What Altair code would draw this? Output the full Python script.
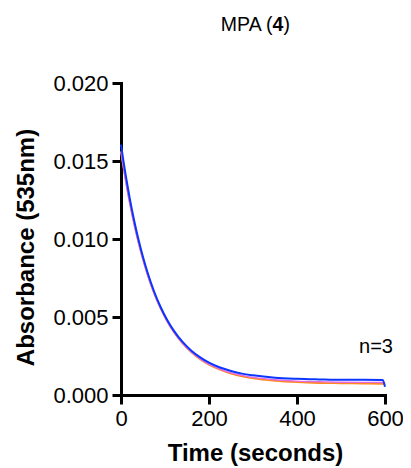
import altair as alt
import pandas as pd

time_s = [0, 5, 10, 15, 20, 30, 40, 50, 60, 75, 90, 105, 120, 140, 160, 180,
          200, 225, 250, 275, 300, 350, 400, 450, 500, 550, 595, 600]
blue = [0.01605, 0.0151, 0.01421, 0.01338, 0.01259, 0.01117, 0.00993, 0.00884,
        0.00788, 0.00665, 0.00564, 0.00481, 0.00413, 0.00340, 0.00284, 0.00241,
        0.00207, 0.00176, 0.00154, 0.00137, 0.00126, 0.00111, 0.00104, 0.00100,
        0.00097, 0.00098, 0.00096, 0.00053]
orange = [0.01562, 0.01472, 0.01387, 0.01307, 0.01232, 0.01096, 0.00976, 0.00870,
          0.00776, 0.00655, 0.00556, 0.00473, 0.00404, 0.00331, 0.00274, 0.00229,
          0.00194, 0.00162, 0.00137, 0.00120, 0.00107, 0.00091, 0.00082, 0.00077,
          0.00075, 0.00073, 0.00071, 0.00068]
magenta = [0.0156, 0.01469, 0.01384, 0.01304, 0.01229, 0.01092, 0.00972, 0.00866,
           0.00773, 0.00653, 0.00554, 0.00472, 0.00404, 0.00332, 0.00275, 0.00232,
           0.00198, 0.00166, 0.00142, 0.00126, 0.00113, 0.00098, 0.00089, 0.00085,
           0.00082, 0.00081, 0.00080, 0.00076]

series_names = ["orange", "magenta", "blue"]
series_colors = ["#FF8A1E", "#E26AE6", "#0A36FF"]
series_widths = [1.8, 1.4, 2.0]
x_ticks = [0, 200, 400, 600]
y_ticks = [0.0, 0.005, 0.010, 0.015, 0.020]

FONT = "Liberation Sans"
W = 264

def frame(vals):
    return pd.DataFrame({"t": time_s, "a": vals})

x_enc = alt.X("t:Q", scale=alt.Scale(domain=[0, 600], nice=False, zero=False),
              axis=alt.Axis(values=x_ticks, title="Time (seconds)", format="d",
                            titleX=134, titleY=65, titleBaseline="alphabetic",
                            labelPadding=4, labelFlush=False))
y_enc = alt.Y("a:Q", scale=alt.Scale(domain=[0, 0.02], nice=False),
              axis=alt.Axis(values=y_ticks, title="Absorbance (535nm)", format=".3f",
                            titleX=-88, titleY=164, titleBaseline="alphabetic",
                            titleAngle=270, labelPadding=4, labelFlush=False))

layers = []
for name, vals, col, w in zip(series_names, [orange, magenta, blue], series_colors, series_widths):
    layers.append(
        alt.Chart(frame(vals)).mark_line(color=col, strokeWidth=w, interpolate="monotone")
        .encode(x=x_enc, y=y_enc)
    )

t1 = alt.Chart(pd.DataFrame({"s": ["MPA ("]})).mark_text(
    font=FONT, fontSize=19.5, align="right", baseline="alphabetic", color="black"
).encode(text="s:N", x=alt.value(151.5), y=alt.value(-52))
t2 = alt.Chart(pd.DataFrame({"s": ["4"]})).mark_text(
    font=FONT, fontSize=19.5, fontWeight="bold", align="center", baseline="alphabetic", color="black"
).encode(text="s:N", x=alt.value(157), y=alt.value(-52))
t3 = alt.Chart(pd.DataFrame({"s": [")"]})).mark_text(
    font=FONT, fontSize=19.5, align="left", baseline="alphabetic", color="black"
).encode(text="s:N", x=alt.value(162.5), y=alt.value(-52))
n_lab = alt.Chart(pd.DataFrame({"s": ["n=3"]})).mark_text(
    font=FONT, fontSize=20, align="center", baseline="alphabetic", color="black"
).encode(text="s:N", x=alt.value(255), y=alt.value(270))

chart = alt.layer(*layers, t1, t2, t3, n_lab).properties(
    width=W, height=312,
    autosize=alt.AutoSizeParams(type="none"),
    padding={"left": 113, "top": 75, "right": 18, "bottom": 73},
).configure_view(stroke=None).configure_axis(
    grid=False, domainColor="black", domainWidth=3, tickColor="black", tickWidth=3,
    tickSize=9, labelColor="black", titleColor="black", labelFont=FONT, titleFont=FONT,
    labelFontSize=22, titleFontSize=24, titleFontWeight="bold", domainCap="square"
)

chart.save("out.html", embed_options={"renderer": "svg", "actions": False})
